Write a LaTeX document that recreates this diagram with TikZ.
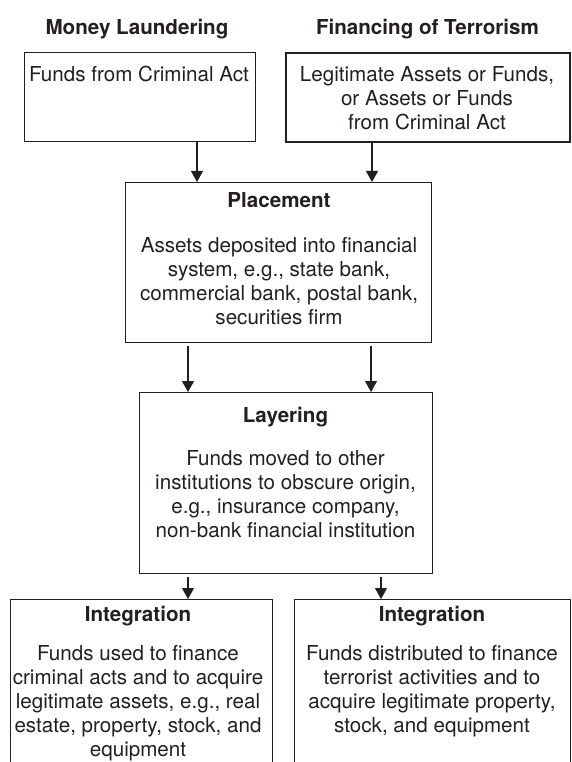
\documentclass[tikz,border=0pt]{standalone}
\usepackage{fontspec}
\setmainfont{TeX Gyre Heros}
\usetikzlibrary{arrows.meta}
\definecolor{ink}{RGB}{35,31,32}
\begin{document}
\begin{tikzpicture}[x=1pt,y=-1pt,
  box/.style={draw=ink, line width=1.2pt, rectangle, inner sep=0pt, anchor=north west},
  txt/.style={text=ink, inner sep=0pt, align=center, anchor=base, font=\fontsize{20.6}{24}\selectfont},
  ttl/.style={txt, font=\fontsize{20.6}{24}\selectfont\bfseries},
  arr/.style={draw=ink, line width=1.2pt, -{Triangle[width=12pt,length=11pt]}}]
\useasboundingbox (0,0) rectangle (571,762);
% column titles
\node[ttl] (h1) at (137,35) {Money Laundering};
\node[ttl] (h2) at (427.5,35) {Financing of Terrorism};
% top boxes (text anchored at baseline of last line)
\node[box, minimum width=231pt, minimum height=89pt] (b1) at (24,52) {};
\node[box, line width=1.8pt, minimum width=284pt, minimum height=89pt] (b2) at (285,52) {};
\node[txt] (t1) at (139,82) {Funds from Criminal Act};
\node[txt] (t2) at (427,130) {Legitimate Assets or Funds,\\or Assets or Funds\\from Criminal Act};
% placement
\node[box, minimum width=306pt, minimum height=160pt] (pl) at (125,182) {};
\node[txt] (tpl) at (279,324) {\textbf{Placement}\\[21pt]Assets deposited into financial\\system, e.g., state bank,\\commercial bank, postal bank,\\securities firm};
% layering
\node[box, minimum width=293pt, minimum height=181pt] (ly) at (139,392) {};
\node[txt] (tly) at (285.5,537) {\textbf{Layering}\\[19pt]Funds moved to other\\institutions to obscure origin,\\e.g., insurance company,\\non-bank financial institution};
% integration
\node[box, minimum width=262pt, minimum height=200pt] (i1) at (10,599) {};
\node[box, minimum width=276pt, minimum height=200pt] (i2) at (294,599) {};
\node[txt] (ti1) at (138,756) {\textbf{Integration}\\[15pt]Funds used to finance\\criminal acts and to acquire\\legitimate assets, e.g., real\\estate, property, stock, and\\equipment};
\node[txt] (ti2) at (432,732) {\textbf{Integration}\\[15pt]Funds distributed to finance\\terrorist activities and to\\acquire legitimate property,\\stock, and equipment};
% arrow columns
\coordinate (c1) at (197,0);
\coordinate (c2) at (372,0);
\coordinate (c3) at (188,0);
\coordinate (c4) at (371,0);
\coordinate (c5) at (188,0);
\coordinate (c6) at (381,0);
\draw[arr] (b1.south -| c1) -- (pl.north -| c1);
\draw[arr] (b2.south -| c2) -- (pl.north -| c2);
\draw[arr] ([yshift=-3pt]pl.south -| c3) -- (ly.north -| c3);
\draw[arr] ([yshift=-3pt]pl.south -| c4) -- (ly.north -| c4);
\draw[arr] ([yshift=-3pt]ly.south -| c5) -- (i1.north -| c5);
\draw[arr] ([yshift=-3pt]ly.south -| c6) -- (i2.north -| c6);
\end{tikzpicture}
\end{document}
